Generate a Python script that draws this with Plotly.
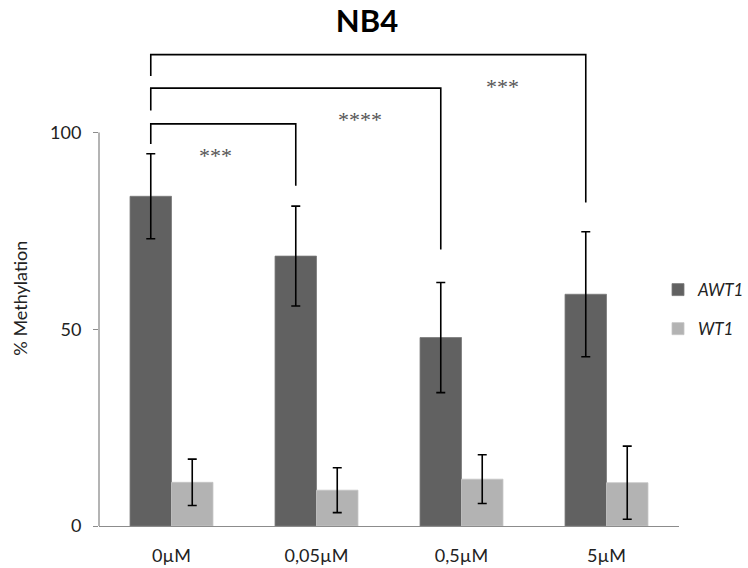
import plotly.graph_objects as go

# Data: % methylation of AWT1 / WT1 in NB4 cells by treatment dose
doses = ["0µM", "0,05µM", "0,5µM", "5µM"]
awt1_mean = [83.8, 68.6, 47.9, 58.9]
awt1_err = [10.8, 12.7, 14.0, 15.9]
wt1_mean = [11.1, 9.1, 11.9, 11.0]
wt1_err = [5.9, 5.7, 6.2, 9.3]

# Significance brackets: (from dose, to dose, bar height, left drop end, right drop end, label)
sig_from = [0, 0, 0]
sig_to = [1, 2, 3]
sig_top = [102.2, 111.3, 119.8]
sig_left_end = [97.1, 105.6, 114.4]
sig_right_end = [86.5, 70.3, 82.2]
sig_labels = ["***", "****", "***"]
sig_label_x = [0.30, 1.30, 2.28]
sig_label_y = [94.1, 103.4, 111.7]

x = list(range(len(doses)))
GAP = 0.428
half = (1 - GAP) / 4  # centre offset of each bar within its group

dark = "#616161"
light = "#b3b3b3"
axis_grey = "#8c8c8c"
text_col = "#222222"
font_family = "Lato, Calibri, 'Open Sans', sans-serif"

fig = go.Figure()
fig.add_trace(go.Bar(
    x=x, y=awt1_mean, name="AWT1", legend="legend",
    marker=dict(color=dark, line=dict(color="#7a7a7a", width=0.8)),
    error_y=dict(type="data", array=awt1_err, color="black", thickness=1.6, width=4.5),
))
fig.add_trace(go.Bar(
    x=x, y=wt1_mean, name="WT1", legend="legend2",
    marker=dict(color=light, line=dict(color="#c4c4c4", width=0.8)),
    error_y=dict(type="data", array=wt1_err, color="black", thickness=1.6, width=4.5),
))

# brackets above the AWT1 bars
for a, b, top, le, re in zip(sig_from, sig_to, sig_top, sig_left_end, sig_right_end):
    xa = a - half
    xb = b - half
    fig.add_shape(type="path", xref="x", yref="y",
                  path=f"M {xa},{le} L {xa},{top} L {xb},{top} L {xb},{re}",
                  line=dict(color="black", width=1.6))

for lx, ly, txt in zip(sig_label_x, sig_label_y, sig_labels):
    fig.add_annotation(x=lx, y=ly, xref="x", yref="y", text=txt, showarrow=False,
                       font=dict(family="'Liberation Serif', serif", size=22, color="#555555"))

# y-axis line spanning 0-100 only
fig.add_shape(type="line", xref="paper", yref="y", x0=0, x1=0, y0=0, y1=100,
              line=dict(color=axis_grey, width=1.3))

# y-axis title
fig.add_annotation(text="% Methylation", textangle=-90, showarrow=False,
                   xref="paper", yref="paper", x=(19 - 98.5) / 580.5, y=(525.7 - 298) / 479.5,
                   xanchor="center", yanchor="middle",
                   font=dict(size=18, color=text_col))

legend_font = dict(size=17, style="italic", color=text_col)

fig.update_layout(
    width=748, height=568,
    margin=dict(l=98.5, r=69, t=46.2, b=42.3, autoexpand=False),
    paper_bgcolor="white", plot_bgcolor="white",
    barmode="group", bargap=GAP, bargroupgap=0,
    font=dict(family=font_family, size=14, color=text_col),
    title=dict(text="<b>NB4</b>", x=367 / 748, xanchor="center", xref="container",
               y=1 - 21 / 568, yanchor="middle", yref="container",
               font=dict(family=font_family, size=31, color="black")),
    xaxis=dict(range=[-0.5, 3.5], tickvals=x, ticktext=doses, showline=True,
               linecolor=axis_grey, linewidth=1.3, ticks="", showgrid=False,
               zeroline=False, ticklabelstandoff=13, automargin=False,
               tickfont=dict(size=18, color=text_col)),
    yaxis=dict(range=[0, 122], tickvals=[0, 50, 100], showline=False, showgrid=False,
               zeroline=False, ticks="outside", ticklen=5, tickwidth=1.3,
               tickcolor=axis_grey, ticklabelstandoff=8, automargin=False,
               tickfont=dict(size=18, color=text_col)),
    legend=dict(x=0.9638, xanchor="left", y=(525.7 - 290) / 479.5, yanchor="middle",
                bgcolor="rgba(0,0,0,0)", itemwidth=30, font=legend_font),
    legend2=dict(x=0.9638, xanchor="left", y=(525.7 - 329) / 479.5, yanchor="middle",
                 bgcolor="rgba(0,0,0,0)", itemwidth=30, font=legend_font),
    showlegend=True,
)

fig.write_html("out.html")
